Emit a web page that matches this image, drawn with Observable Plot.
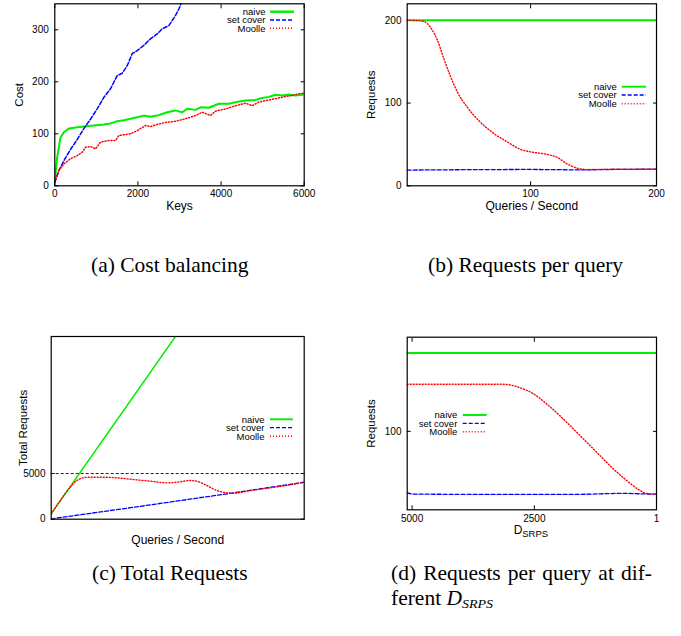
<!DOCTYPE html>
<html><head><meta charset="utf-8">
<script src="https://cdn.jsdelivr.net/npm/d3@7"></script>
<script src="https://cdn.jsdelivr.net/npm/@observablehq/plot@0.6"></script>
<style>
body{margin:0;background:#fff}
#root{position:relative;width:681px;height:636px;overflow:hidden;background:#fff}
.panel{position:absolute}
</style></head><body><div id="root"></div>
<script>
// ---------------- DATA ----------------
const seriesNames = ["naive", "set cover", "Moolle"];

// (a) Cost balancing : [keys, cost]
const aNaive = [[0,10],[58,55],[137,93],[217,103],[337,110],[457,111.5],[698,114],[938,116],[1179,118],[1340,120],[1501,124],[1660,126],[1821,129],[1982,132],[2141,135],[2302,133],[2464,135],[2704,141.5],[2904,145],[3065,141.5],[3185,148],[3385,146],[3505,151],[3705,150],[3946,157.7],[4186,157.7],[4347,160.8],[4588,164],[4829,165],[4990,169],[5150,171],[5310,175],[5471,173.6],[5630,175.6],[5791,173.6],[5990,175.6]];
const aSetCover = [[0,7],[96,29],[217,48],[378,70],[539,89],[698,110],[859,128],[1020,148],[1179,170],[1340,186.5],[1501,212],[1621,216.5],[1742,231],[1862,254],[1982,260],[2141,270],[2302,282.7],[2464,292],[2584,302],[2743,308],[2904,327.5],[2984,340],[3100,362]];
const aMoolle = [[0,7],[96,29],[217,42],[378,52],[539,58],[659,64.6],[739,74],[859,75.6],[979,71],[1100,84],[1300,87],[1460,87],[1540,96.7],[1821,100],[1982,106],[2182,116],[2302,114],[2464,118],[2663,122],[2904,124],[3145,129],[3385,135],[3546,141.5],[3746,135],[3866,143.5],[4107,148],[4347,154],[4588,159],[4749,154],[4909,161],[5149,165],[5390,169],[5550,171.7],[5711,173.6],[5871,177],[5990,178]];
const aXTicks = [0, 2000, 4000, 6000];
const aYTicks = [0, 100, 200, 300];

// (b) Requests per query : [queries/s, requests]
const bNaive = [[2,200],[200,200]];
const bSetCover = [[2,19],[50,19.5],[100,19.8],[140,19.2],[170,19.8],[200,20.2]];
const bMoolle = [[2,200],[12.7,199.5],[18,196],[22,188],[26,176],[31,154],[36.5,132],[41.8,113.5],[49.7,95],[60,77],[71,63],[81.5,53],[92,44],[100,41],[113,38],[121,34.5],[129,26.5],[137,21.4],[145,19.6],[161,20],[200,20]];
const bXTicks = [100, 200];
const bYTicks = [0, 100, 200];

// (c) Total Requests : [queries/s, total requests]
const cNaive = [[0,600],[100,20350]];
const cSetCover = [[0,40],[70,1400],[139,2780],[200,4050]];
const cMoolle = [[0,600],[7.4,2100],[15.3,3550],[20,4200],[25,4520],[30,4600],[39,4600],[52,4526],[65,4343],[78.5,4161],[91.7,3978],[99.6,4051],[110,4234],[115,4161],[123,3686],[131,3139],[139,2883],[144,2847],[157.6,3139],[170.8,3394],[184,3650],[200,4051]];
const cLimit = 5000;
const cYTicks = [0, 5000];

// (d) Requests per query at different D_SRPS : [D_SRPS, requests]
const dNaive = [[5100,200],[1,200]];
const dSetCover = [[5100,21.6],[4966,20],[3064,19.6],[1707,19.6],[689,20.9],[23,20],[1,20]];
const dMoolle = [[5100,160],[3134,160],[2793,155.6],[2522,148],[2249,135],[1978,120],[1707,103.5],[1435,86.5],[1164,69.6],[892,52.6],[620,37.8],[349,25],[213,21],[23,20],[1,20]];
const dXTicks = [5000, 2500, 1];
const dYTicks = [100];

// ---------------- STYLE ----------------
const FONT = "'Liberation Sans', Arial, Helvetica, sans-serif";
const SERIF = "'Liberation Serif', 'Times New Roman', serif";
const styles = [
  {stroke: "#00ee00", strokeWidth: 2},
  {stroke: "#0000ff", strokeWidth: 1.5, strokeDasharray: "4,2"},
  {stroke: "#ff0000", strokeWidth: 1.5, strokeDasharray: "1,2"}
];
const thin = [
  {stroke: "#00ee00", strokeWidth: 1.5},
  {stroke: "#0000ff", strokeWidth: 1.3, strokeDasharray: "4,2"},
  {stroke: "#ff0000", strokeWidth: 1.4, strokeDasharray: "1,2"}
];
const root = document.getElementById("root");
const fmt = d => String(d);

function line(data, st, curve) {
  return Plot.line(data, {x: d => d[0], y: d => d[1], curve: curve || "linear", clip: true, ...st});
}
function axes(xTicks, yTicks, xPad, yPad) {
  const m = [];
  if (yTicks) {
    m.push(Plot.axisY({ticks: yTicks, anchor: "left", tickSize: 4, dx: 4, tickPadding: yPad, fontSize: 10, tickFormat: fmt, label: null}));
    m.push(Plot.axisY({ticks: yTicks, anchor: "right", tickSize: 4, dx: -4, tickFormat: () => "", label: null}));
  } else {
    m.push(Plot.axisY({ticks: [], label: null}));
  }
  if (xTicks) {
    m.push(Plot.axisX({ticks: xTicks, anchor: "bottom", tickSize: 4, dy: -4, tickPadding: xPad, fontSize: 10, tickFormat: fmt, label: null}));
    m.push(Plot.axisX({ticks: xTicks, anchor: "top", tickSize: 4, dy: 4, tickFormat: () => "", label: null}));
  } else {
    m.push(Plot.axisX({ticks: [], label: null}));
  }
  return m;
}
function yTitle(t, dx) {
  return Plot.text([t], {text: d => d, frameAnchor: "left", textAnchor: "middle", lineAnchor: "middle", rotate: -90, dx, fontSize: 11.5});
}
function xTitle(t, dy) {
  return Plot.text([t], {text: d => d, frameAnchor: "bottom", textAnchor: "middle", lineAnchor: "middle", dy, fontSize: 12});
}
function legend(svg, textRight, rows, x1, x2, st) {
  const g = d3.select(svg).append("g").attr("font-family", FONT).attr("font-size", 9.5).attr("fill", "black");
  seriesNames.forEach((name, i) => {
    const y = rows[i], s = st[i];
    g.append("text").attr("x", textRight).attr("y", y).attr("dy", "0.35em").attr("text-anchor", "end").text(name);
    g.append("line").attr("x1", x1).attr("x2", x2).attr("y1", y).attr("y2", y)
      .attr("stroke", s.stroke).attr("stroke-width", s.strokeWidth + (i === 0 ? 0.4 : 0))
      .attr("stroke-dasharray", s.strokeDasharray || null);
  });
}
function place(svg, left, top) {
  const div = document.createElement("div");
  div.className = "panel";
  div.style.left = left + "px"; div.style.top = top + "px";
  div.appendChild(svg);
  root.appendChild(div);
}
const baseStyle = {fontFamily: FONT, background: "white", color: "black", overflow: "visible"};

// ---------------- (a) ----------------
{
  const svg = Plot.plot({
    width: 340, height: 220, marginLeft: 54.3, marginRight: 36.3, marginTop: 3.3, marginBottom: 34.7,
    style: baseStyle,
    x: {domain: [0, 6000]}, y: {domain: [0, 350]},
    marks: [
      ...axes(aXTicks, aYTicks, 4, 6),
      line(aNaive, styles[0]), line(aSetCover, styles[1]), line(aMoolle, styles[2]),
      yTitle("Cost", -35.3),
      xTitle("Keys", 20),
      Plot.frame({stroke: "black", strokeWidth: 1.2})
    ]
  });
  legend(svg, 265.5, [11.7, 20, 28.3], 270, 294, styles);
  place(svg, 0, 0);
}
// ---------------- (b) ----------------
{
  const svg = Plot.plot({
    width: 341, height: 220, marginLeft: 66.7, marginRight: 25, marginTop: 3.3, marginBottom: 34.7,
    style: baseStyle,
    x: {domain: [2, 200]}, y: {domain: [0, 220]},
    marks: [
      ...axes(bXTicks, bYTicks, 4, 5.7),
      line(bNaive, styles[0]), line(bSetCover, thin[1]), line(bMoolle, thin[2], "monotone-x"),
      yTitle("Requests", -35.4),
      xTitle("Queries / Second", 20.4),
      Plot.frame({stroke: "black", strokeWidth: 1.2})
    ]
  });
  legend(svg, 276.7, [86.7, 95, 103.7], 281.7, 306, thin);
  place(svg, 340, 0);
}
// ---------------- (c) ----------------
{
  const svg = Plot.plot({
    width: 340, height: 260, marginLeft: 50.7, marginRight: 36.3, marginTop: 36, marginBottom: 41.3,
    style: baseStyle,
    x: {domain: [0, 200]}, y: {domain: [0, 20000]},
    marks: [
      ...axes(null, cYTicks, 4, 5.7),
      Plot.ruleY([cLimit], {stroke: "#222", strokeWidth: 1, strokeDasharray: "3,2"}),
      line(cNaive, thin[0]), line(cSetCover, thin[1]), line(cMoolle, thin[2], "monotone-x"),
      yTitle("Total Requests", -27.4),
      xTitle("Queries / Second", 21),
      Plot.frame({stroke: "black", strokeWidth: 1.2})
    ]
  });
  legend(svg, 264.5, [119.3, 127.7, 136.3], 270, 293, thin);
  place(svg, 0, 300);
}
// ---------------- (d) ----------------
{
  const svg = Plot.plot({
    width: 341, height: 260, marginLeft: 66.7, marginRight: 25, marginTop: 36.7, marginBottom: 50.7,
    style: baseStyle,
    x: {domain: [5100, 1]}, y: {domain: [0, 220]},
    marks: [
      ...axes(dXTicks, dYTicks, 5.4, 5.7),
      line(dNaive, styles[0]), line(dSetCover, thin[1], "monotone-x"), line(dMoolle, thin[2], "monotone-x"),
      yTitle("Requests", -35.4),
      Plot.text(["D"], {text: d => d, frameAnchor: "bottom", textAnchor: "start", lineAnchor: "middle", dx: -18, dy: 20.3, fontSize: 12}),
      Plot.text(["SRPS"], {text: d => d, frameAnchor: "bottom", textAnchor: "start", lineAnchor: "middle", dx: -9.6, dy: 24.6, fontSize: 9.5}),
      Plot.frame({stroke: "black", strokeWidth: 1.2})
    ]
  });
  legend(svg, 117.3, [115, 123.3, 131.7], 122.7, 146.7, thin);
  place(svg, 340, 300);
}
// ---------------- captions ----------------
{
  const cap = d3.select(root).append("svg")
    .attr("width", 681).attr("height", 636)
    .style("position", "absolute").style("left", 0).style("top", 0).style("pointer-events", "none")
    .attr("font-family", SERIF).attr("font-size", 20).attr("fill", "black");
  const sx = 1.075;
  const put = (x, y) => cap.append("text").attr("transform", `translate(${x},${y}) scale(${sx},1)`);
  put(91, 271.7).text("(a) Cost balancing");
  put(428, 271.7).text("(b) Requests per query");
  put(92, 579.7).text("(c) Total Requests");
  put(391, 579.7).attr("word-spacing", 1.6).text("(d) Requests per query at dif-");
  const t = put(391, 604.5);
  t.append("tspan").text("ferent ");
  t.append("tspan").attr("font-style", "italic").text("D");
  t.append("tspan").attr("font-style", "italic").attr("font-size", 13).attr("dy", 3).text("SRPS");
}
</script></body></html>
